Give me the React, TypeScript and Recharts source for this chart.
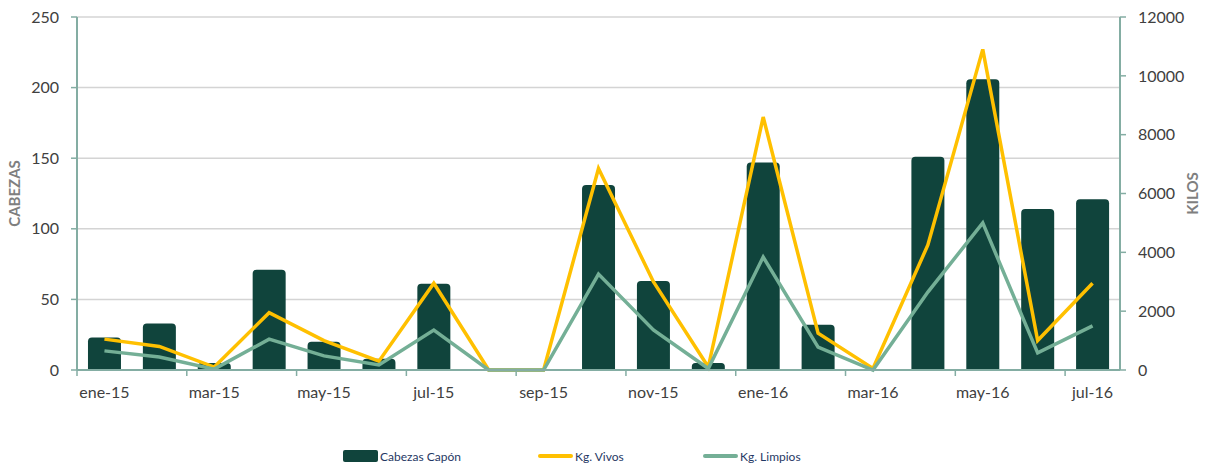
import React from 'react';
import { ComposedChart, Bar, Line, XAxis, YAxis, CartesianGrid } from 'recharts';

const meses = [
  'ene-15', 'feb-15', 'mar-15', 'abr-15', 'may-15', 'jun-15', 'jul-15', 'ago-15', 'sep-15', 'oct-15',
  'nov-15', 'dic-15', 'ene-16', 'feb-16', 'mar-16', 'abr-16', 'may-16', 'jun-16', 'jul-16',
];
const cabezas = [23, 33, 5, 71, 20, 8, 61, 0, 0, 131, 63, 5, 147, 32, 0, 151, 206, 114, 121];
const kgVivos = [1050, 800, 100, 1950, 1000, 300, 2950, 0, 0, 6850, 3000, 100, 8600, 1250, 50, 4250, 10900, 1000, 2950];
const kgLimpios = [650, 440, 30, 1050, 480, 170, 1360, 0, 0, 3260, 1360, 50, 3840, 780, 0, 2650, 5000, 580, 1500];

const leftTicks = [0, 50, 100, 150, 200, 250];
const rightTicks = [0, 2000, 4000, 6000, 8000, 10000, 12000];

const data = meses.map((mes, i) => ({
  mes,
  cabezas: cabezas[i],
  vivos: kgVivos[i],
  limpios: kgLimpios[i],
}));

const W = 1209;
const H = 469;
const LEFT_W = 77;
const RIGHT_W = 89;
const BAND = (W - LEFT_W - RIGHT_W) / meses.length;

const AXIS = '#84ADA3';
const FONT = 'Lato, "Open Sans", sans-serif';

const XTick = ({ x, y, payload }: any) => (
  <g>
    <line x1={x - BAND / 2} x2={x - BAND / 2} y1={y - 8} y2={y - 2} stroke={AXIS} strokeWidth={1.5} />
    <text x={x} y={y} dy={20} textAnchor="middle" fill="#404040" fontSize={16} fontFamily={FONT}>
      {payload.value}
    </text>
  </g>
);

const LegendItem = ({ kind, color, label }: { kind: 'bar' | 'line'; color: string; label: string }) => (
  <div style={{ display: 'flex', alignItems: 'center' }}>
    <div
      style={{
        width: 35,
        height: kind === 'bar' ? 12 : 4,
        background: color,
        borderRadius: 2,
        marginRight: 2,
      }}
    />
    <span style={{ color: '#1F3864', fontSize: 12, fontFamily: FONT }}>{label}</span>
  </div>
);

export default function App() {
  return (
    <div style={{ position: 'absolute', left: 0, top: 0, width: W, height: H, background: '#fff' }}>
      <ComposedChart width={W} height={H} data={data} margin={{ top: 17, right: 0, bottom: 0, left: 0 }} barCategoryGap="20%">
        <CartesianGrid vertical={false} stroke="#D4D4D4" strokeWidth={1.5} yAxisId="left" />
        <XAxis
          dataKey="mes"
          height={99}
          interval={1}
          axisLine={{ stroke: AXIS, strokeWidth: 2 }}
          tickLine={false}
          tickSize={6}
          tickMargin={2}
          tick={<XTick />}
        />
        <YAxis
          yAxisId="left"
          width={LEFT_W}
          domain={[0, 250]}
          ticks={leftTicks}
          axisLine={{ stroke: AXIS, strokeWidth: 2 }}
          tickLine={{ stroke: AXIS, strokeWidth: 1.5 }}
          tickSize={6}
          tickMargin={12}
          tick={{ fill: '#404040', fontSize: 16, fontFamily: FONT }}
          label={{
            value: 'CABEZAS',
            angle: -90,
            position: 'insideLeft',
            offset: 15,
            style: { fill: '#7F7F7F', fontSize: 15, fontWeight: 'bold', fontFamily: FONT, textAnchor: 'middle' },
          }}
        />
        <YAxis
          yAxisId="right"
          orientation="right"
          width={RIGHT_W}
          domain={[0, 12000]}
          ticks={rightTicks}
          axisLine={{ stroke: AXIS, strokeWidth: 2 }}
          tickLine={{ stroke: AXIS, strokeWidth: 1.5 }}
          tickSize={6}
          tickMargin={12}
          tick={{ fill: '#404040', fontSize: 16, fontFamily: FONT }}
          label={{
            value: 'KILOS',
            angle: -90,
            position: 'insideRight',
            offset: 16,
            style: { fill: '#7F7F7F', fontSize: 15, fontWeight: 'bold', fontFamily: FONT, textAnchor: 'middle' },
          }}
        />
        <Bar yAxisId="left" dataKey="cabezas" fill="#10443C" radius={[4, 4, 0, 0]} isAnimationActive={false} />
        <Line yAxisId="right" dataKey="vivos" stroke="#FFC000" strokeWidth={3.5} dot={false} isAnimationActive={false} />
        <Line yAxisId="right" dataKey="limpios" stroke="#74AF96" strokeWidth={3.5} dot={false} isAnimationActive={false} />
      </ComposedChart>
      <div style={{ position: 'absolute', top: 448, left: 343, display: 'flex', height: 16, alignItems: 'center' }}>
        <div style={{ width: 195 }}>
          <LegendItem kind="bar" color="#10443C" label="Cabezas Capón" />
        </div>
        <div style={{ width: 165 }}>
          <LegendItem kind="line" color="#FFC000" label="Kg. Vivos" />
        </div>
        <LegendItem kind="line" color="#74AF96" label="Kg. Limpios" />
      </div>
    </div>
  );
}
